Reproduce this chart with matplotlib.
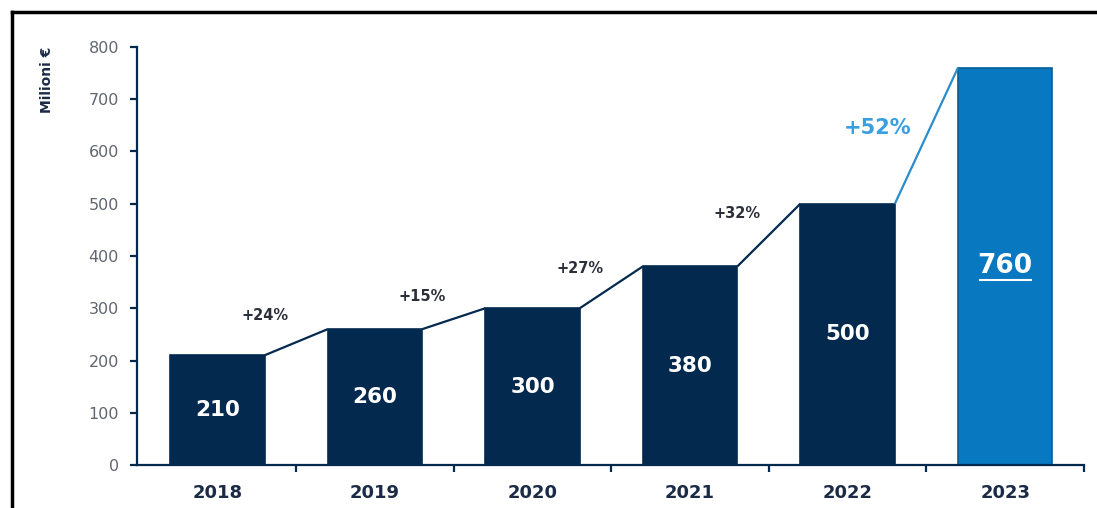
import matplotlib.pyplot as plt
from matplotlib.lines import Line2D

# -------------------------------------------------------
# Data
# -------------------------------------------------------
years = ["2018", "2019", "2020", "2021", "2022", "2023"]
values = [210, 260, 300, 380, 500, 760]
growth_labels = ["+24%", "+15%", "+27%", "+32%", "+52%"]
growth_label_y = [287, 322, 377, 482, 645]

NAVY = "#04294f"
BLUE = "#0878c0"
LIGHT_BLUE = "#3a9fe0"
TICK_GRAY = "#5f6670"

plt.rcParams["font.family"] = ["DejaVu Sans"]

fig = plt.figure(figsize=(10.97, 5.08), dpi=100)
ax = fig.add_axes([0.1249, 0.0846, 0.9881 - 0.1249, 0.9075 - 0.0846])

x = list(range(len(years)))
bar_w = 0.6
colors = [NAVY] * (len(years) - 1) + [BLUE]
edges = [NAVY] * (len(years) - 1) + ["#065d96"]
ax.bar(x, values, width=bar_w, color=colors, edgecolor=edges, linewidth=1.2, zorder=2)

# connectors between bar corners
for i in range(len(values) - 1):
    c = "#2a8ccb" if i == len(values) - 2 else NAVY
    ax.plot([i + bar_w / 2, i + 1 - bar_w / 2], [values[i], values[i + 1]],
            color=c, lw=1.6, zorder=3, solid_capstyle="butt")

# growth labels
for i, (lab, ly) in enumerate(zip(growth_labels, growth_label_y)):
    last = i == len(growth_labels) - 1
    ax.text(i + (0.19 if last else 0.3), ly, lab,
            ha="center", va="center", fontweight="bold",
            fontsize=15 if last else 10.5,
            color=LIGHT_BLUE if last else "#2b2f3a", zorder=4)

# values inside bars
value_texts = []
for i, v in enumerate(values):
    last = i == len(values) - 1
    t = ax.text(i, v / 2, str(v), ha="center", va="center", color="white",
                fontweight="bold", fontsize=19 if last else 15.5, zorder=4)
    value_texts.append(t)

# axes styling
ax.set_xlim(-0.51, 5.5)
ax.set_ylim(0, 800)
ax.set_yticks(range(0, 801, 100))
ax.set_xticks(x)
ax.set_xticklabels(years)
ax.set_xticks([i + 0.5 for i in x], minor=True)
ax.tick_params(axis="x", which="major", length=0, pad=14, labelsize=13,
               labelcolor="#1b2b45")
for lbl in ax.get_xticklabels():
    lbl.set_fontweight("bold")
ax.tick_params(axis="x", which="minor", length=5, width=1.6, color=NAVY)
ax.tick_params(axis="y", length=5, width=1.6, color=NAVY, pad=8,
               labelsize=11.5, labelcolor=TICK_GRAY)
for side in ["top", "right"]:
    ax.spines[side].set_visible(False)
for side in ["left", "bottom"]:
    ax.spines[side].set_color(NAVY)
    ax.spines[side].set_linewidth(1.6)

fig.text(47 / 1097, 1 - 80 / 508, "Milioni €", rotation=90, ha="center",
         va="center", fontsize=10, fontweight="bold", color="#1b2b45")

# underline the 2023 value
fig.canvas.draw()
bb = value_texts[-1].get_window_extent()
inv = fig.transFigure.inverted()
(x0, y0), (x1, _) = inv.transform([(bb.x0 + 2, bb.y0 - 1), (bb.x1 - 2, bb.y0 - 1)])
fig.add_artist(Line2D([x0, x1], [y0, y0], color="white", lw=1.5, zorder=5))

# black frame on left and top edges
frame_x = 11.5 / 1097
frame_y = 1 - 11.5 / 508
fig.add_artist(Line2D([frame_x, frame_x], [0, frame_y], color="black",
                      lw=2.5, solid_capstyle="projecting"))
fig.add_artist(Line2D([frame_x, 1], [frame_y, frame_y], color="black",
                      lw=2.5, solid_capstyle="projecting"))

fig.savefig("out.png", dpi=100)
